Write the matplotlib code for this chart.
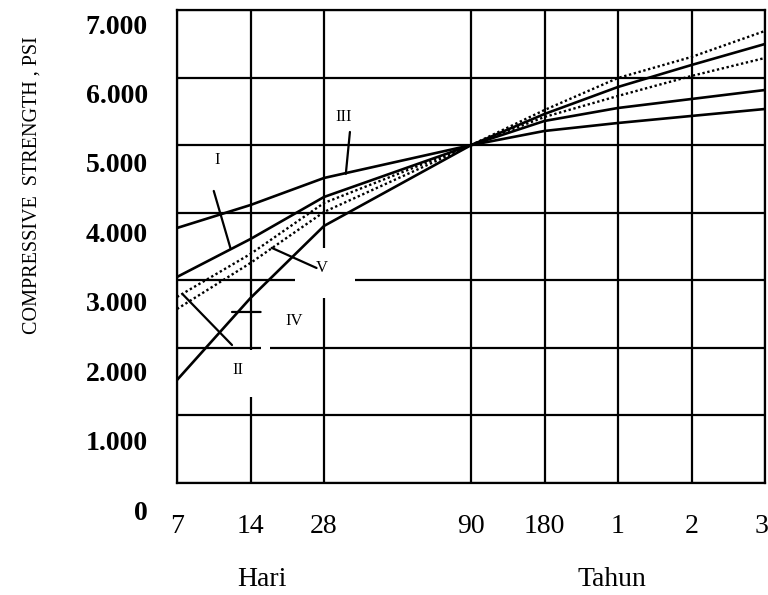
import numpy as np
import matplotlib
matplotlib.use('Agg')
import matplotlib.pyplot as plt
from matplotlib.patches import Rectangle
from matplotlib.transforms import ScaledTranslation

plt.rcParams['font.family'] = ['Liberation Serif', 'DejaVu Serif']

# ages (days) where the grid lines sit, and where each curve was read
ages = [7, 14, 28, 90, 180, 365, 730, 1095]
age_labels = ['7', '14', '28', '90', '180', '1', '2', '3']
grid_pos = [0, 1, 2, 4, 5, 6, 7, 8]  # spacing of the printed age axis

# compressive strength, psi, read at each age
type_I = [3049, 3611, 4233, 5000, 5358, 5550, 5683, 5816]
type_II = [2753, 3390, 4144, 5000, 5417, 5728, 6024, 6290]
type_III = [3774, 4114, 4514, 5000, 5210, 5328, 5432, 5535]
type_IV = [1524, 2738, 3804, 5000, 5461, 5861, 6186, 6497]
type_V = [2575, 3256, 4011, 5000, 5520, 5994, 6305, 6690]

psi_ticks = [0, 1000, 2000, 3000, 4000, 5000, 6000, 7000]
psi_labels = ['0', '1.000', '2.000', '3.000', '4.000', '5.000', '6.000', '7.000']

log_ages = np.log(ages)


def forward(a):
    a = np.clip(np.asarray(a, dtype=float), 1e-9, None)
    return np.interp(np.log(a), log_ages, grid_pos)


def inverse(p):
    return np.exp(np.interp(p, grid_pos, log_ages))


fig = plt.figure(figsize=(7.68, 5.95), dpi=100)
ax = fig.add_axes([177 / 768, 112 / 595, 588 / 768, 473 / 595])
ax.set_xscale('function', functions=(forward, inverse))
ax.set_xlim(7, 1095)
ax.set_ylim(0, 7000)

ax.set_xticks(ages)
ax.set_xticklabels(age_labels, fontsize=20)
ax.set_yticks(psi_ticks)
ax.set_yticklabels(psi_labels, fontsize=20, fontweight='bold')
ax.xaxis.set_minor_locator(matplotlib.ticker.NullLocator())
ax.tick_params(axis='both', length=0)
ax.tick_params(axis='x', pad=22)
ax.tick_params(axis='y', pad=21)

# the printed y labels drift below their grid lines (scan), more so lower down
for lab, val in zip(ax.get_yticklabels(), psi_ticks):
    drop = (14 + (7000 - val) / 1000 * 1.9) / 100
    lab.set_transform(lab.get_transform() + ScaledTranslation(0, -drop, fig.dpi_scale_trans))
# last age label sits flush with the right edge
last = ax.get_xticklabels()[-1]
last.set_transform(last.get_transform() + ScaledTranslation(-0.04, 0, fig.dpi_scale_trans))

ax.set_axisbelow(True)
ax.grid(True, color='black', linewidth=1.6)
for s in ax.spines.values():
    s.set_linewidth(1.6)

# white breaks in the grid around the curve labels
masks = [(21.3, 35.8, 2738, 3478), (13.54, 14.33, 1273, 1975), (15.45, 16.87, 1960, 2040)]
for a0, a1, p0, p1 in masks:
    ax.add_patch(Rectangle((a0, p0), a1 - a0, p1 - p0, facecolor='white',
                           edgecolor='none', zorder=1))

ax.plot(ages, type_III, color='black', lw=1.9, zorder=2)
ax.plot(ages, type_I, color='black', lw=1.9, zorder=2)
ax.plot(ages, type_IV, color='black', lw=1.9, zorder=2)
ax.plot(ages, type_II, color='black', lw=1.7, ls=(0, (1, 1.1)), zorder=2)
ax.plot(ages, type_V, color='black', lw=1.7, ls=(0, (1, 1.1)), zorder=2)

# curve names and their leader lines
names = ['I', 'III', 'V', 'IV', 'II']
name_pos = [(10.2, 4780), (32.6, 5417), (27.4, 3177), (21.1, 2398), (12.4, 1672)]
leaders = [((9.9, 4322), (11.6, 3470)),
           ((34.4, 5195), (33.3, 4575)),
           ((26.1, 3182), (17.1, 3480)),
           ((11.76, 2531), (15.4, 2531)),
           ((11.76, 2042), (7.4, 2790))]
for nm, (xa, ya), (p_from, p_to) in zip(names, name_pos, leaders):
    ax.text(xa, ya, nm, fontsize=12, ha='center', va='center', zorder=3)
    ax.annotate('', xy=p_to, xytext=p_from,
                arrowprops=dict(arrowstyle='-', color='black', lw=1.6,
                                shrinkA=0, shrinkB=0), zorder=3)

fig.text(32 / 768, 1 - 185 / 595, 'COMPRESSIVE  STRENGTH , PSI', rotation=90,
         ha='center', va='center', fontsize=14.5)
fig.text(262 / 768, 1 - 580 / 595, 'Hari', ha='center', va='center', fontsize=20)
fig.text(612 / 768, 1 - 580 / 595, 'Tahun', ha='center', va='center', fontsize=20)

fig.savefig('out.png', dpi=100)
